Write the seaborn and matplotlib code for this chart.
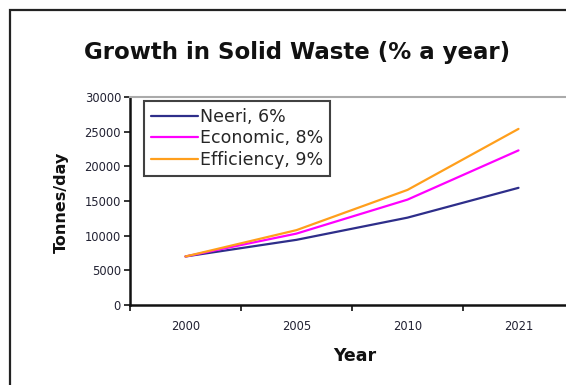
import matplotlib
matplotlib.use("Agg")
import matplotlib.pyplot as plt
import seaborn as sns
import pandas as pd
from matplotlib.patches import Rectangle
from matplotlib.lines import Line2D

years = ["2000", "2005", "2010", "2021"]
neeri = [7000, 9400, 12600, 16900]
economic = [7000, 10300, 15200, 22300]
efficiency = [7000, 10800, 16600, 25400]
series_names = ["Neeri, 6%", "Economic, 8%", "Efficiency, 9%"]
colors = ["#2E2E8A", "#FF00FF", "#FF9F1C"]
yticks = [0, 5000, 10000, 15000, 20000, 25000, 30000]

rows = []
for name, vals in zip(series_names, [neeri, economic, efficiency]):
    for i, (y, v) in enumerate(zip(years, vals)):
        rows.append({"pos": i, "Year": y, "value": v, "series": name})
df = pd.DataFrame(rows)

sns.set_theme(style="white")
plt.rcParams['font.family'] = ['DejaVu Sans']

W, H = 566, 385
fig = plt.figure(figsize=(W / 100, H / 100), dpi=100)
fig.patch.set_facecolor("white")

# outer chart border
fig.patches.append(Rectangle((10 / W, -0.1), 1.2, (H - 10) / H + 0.1,
                             transform=fig.transFigure, fill=False,
                             edgecolor="#222222", linewidth=1.6))

ax = fig.add_axes([130 / W, (H - 305) / H, 444 / W, 208 / H])
sns.lineplot(data=df, x="pos", y="value", hue="series", palette=colors,
             hue_order=series_names, linewidth=1.6, ax=ax, legend=False)

ax.set_xlim(-0.5, 3.5)
ax.set_ylim(0, 30000)
ax.set_yticks(yticks)
ax.set_yticklabels([str(v) for v in yticks], fontsize=8.3, color="#222233")
ax.set_xticks([-0.5, 0.5, 1.5, 2.5, 3.5])
ax.set_xticklabels([])
for i, y in enumerate(years):
    ax.text(i, -0.07, y, transform=ax.get_xaxis_transform(), ha="center",
            va="top", fontsize=8.3, color="#222233")
ax.tick_params(axis="both", which="both", direction="out", length=4,
               width=1.2, colors="#111111", pad=2.5, left=True, bottom=True)
for lbl in ax.get_yticklabels():
    lbl.set_color("#222233")
for s in ["left", "bottom"]:
    ax.spines[s].set_color("#111111")
    ax.spines[s].set_linewidth(1.8)
ax.spines["top"].set_color("#AAAAAA")
ax.spines["top"].set_linewidth(1.5)
ax.spines["right"].set_visible(False)
ax.set_xlabel("")
ax.set_ylabel("")

fig.text(61 / W, 1 - 202 / H, "Tonnes/day", ha="center", va="center",
         rotation=90, fontsize=11.5, fontweight="bold", color="#111111")
fig.text(355 / W, 1 - 356 / H, "Year", ha="center", va="center",
         fontsize=12.5, fontweight="bold", color="#111111")
fig.text(297 / W, 1 - 52 / H, "Growth in Solid Waste (% a year)", ha="center",
         va="center", fontsize=16.5, fontweight="bold", color="#111111")

handles = [Line2D([0], [0], color=c, linewidth=1.6) for c in colors]
leg = ax.legend(handles, series_names, loc="upper left",
                bbox_to_anchor=((144 - 130) / 444, 1 - (101 - 97) / 208),
                borderaxespad=0, frameon=True, fancybox=False, fontsize=12.5,
                handlelength=2.7, handletextpad=0.1, labelspacing=0.2,
                borderpad=0.4)
leg.get_frame().set_edgecolor("#111111")
leg.get_frame().set_linewidth(1.5)

fig.savefig("out.png", dpi=100, facecolor="white")
